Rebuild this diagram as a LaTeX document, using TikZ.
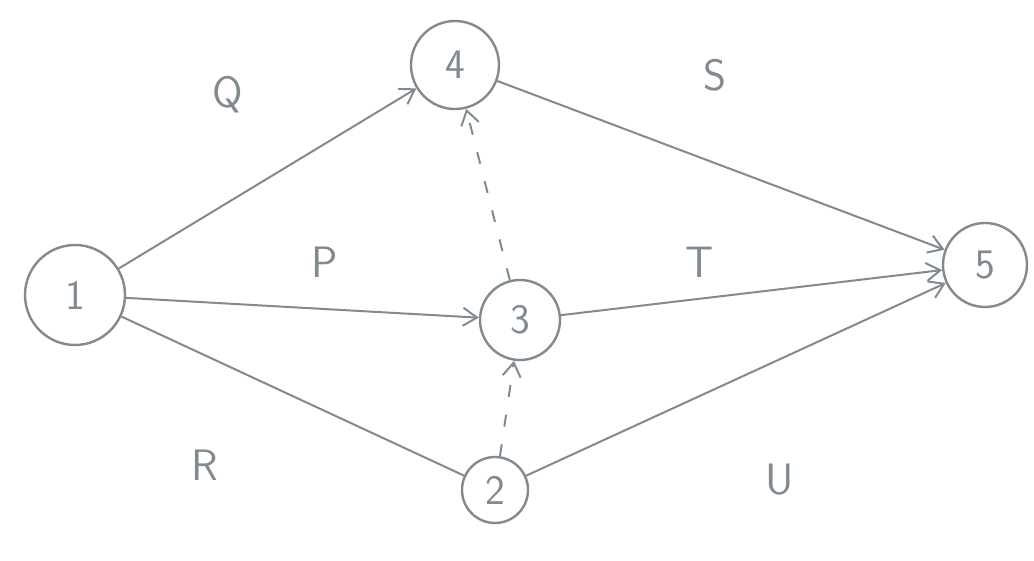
\documentclass[tikz,border=0pt]{standalone}
\usetikzlibrary{arrows.meta}
\definecolor{pencil}{RGB}{128,138,144}
\begin{document}
\begin{tikzpicture}[x=1pt,y=-1pt,
  ev/.style={draw=pencil,line width=2.4pt,circle,inner sep=0pt,font=\fontsize{42}{42}\selectfont\sffamily,text=pencil},
  act/.style={draw=pencil,line width=2pt,-{Straight Barb[length=14pt,width=18pt,line width=2pt]}},
  plain/.style={draw=pencil,line width=2pt},
  dum/.style={act,dash pattern=on 12pt off 18pt},
  lbl/.style={text=pencil,font=\fontsize{44}{44}\selectfont\sffamily}]
\useasboundingbox (0,0) rectangle (1034,561);
\node[ev,minimum size=100pt] (n1) at (75,295) {1};
\node[ev,minimum size=88pt] (n4) at (455,65) {4};
\node[ev,minimum size=80pt] (n3) at (520,320) {3};
\node[ev,minimum size=66pt] (n2) at (495,490) {2};
\node[ev,minimum size=84pt] (n5) at (985,265) {5};
\draw[act] (n1) -- (n4);
\draw[act] (n4) -- (n5);
\draw[act] (n1) -- (n3);
\draw[act] (n3) -- (n5);
\draw[plain] (n1) -- (n2);
\draw[act] (n2) -- (n5);
\draw[dum] (n2) -- (n3);
\draw[dum] (n3) -- (n4);
\node[lbl] (lq) at (228,95) {Q};
\node[lbl] (ls) at (715,75) {S};
\node[lbl] (lp) at (325,262) {P};
\node[lbl] (lt) at (700,262) {T};
\node[lbl] (lr) at (205,465) {R};
\node[lbl] (lu) at (780,480) {U};
\end{tikzpicture}
\end{document}
